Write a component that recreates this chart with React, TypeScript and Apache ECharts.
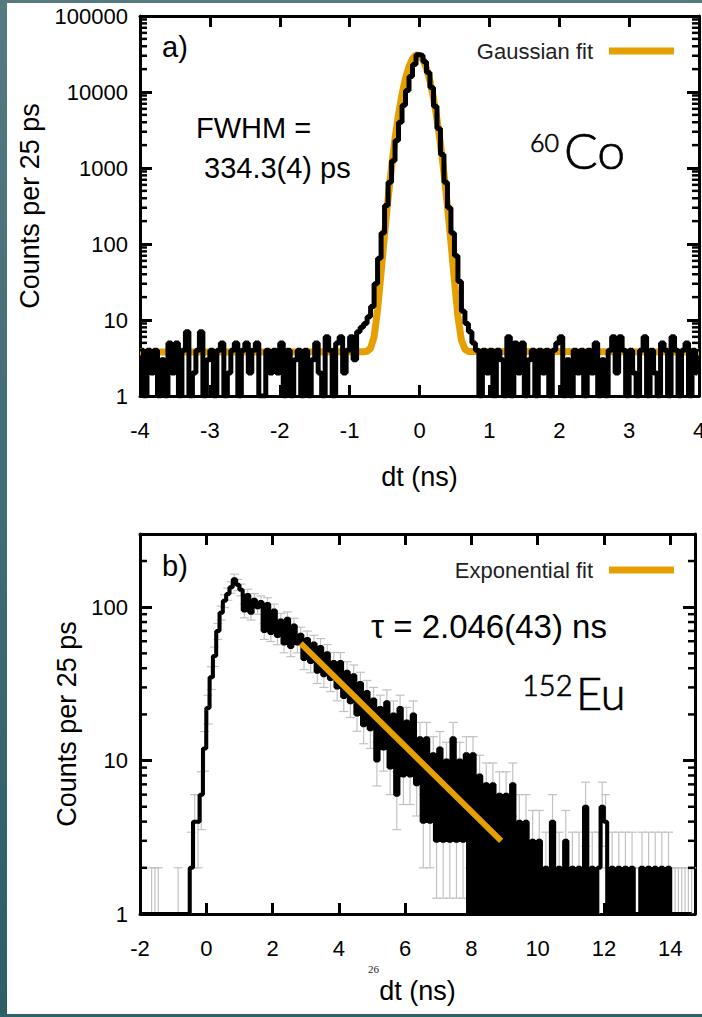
import React, { useEffect, useRef } from 'react';
import * as echarts from 'echarts';

// ---------------- Panel a) 60Co timing peak ----------------
// counts per bin; bins of 0.05 ns starting at -4 ns
const aBinStart = -4;
const aBinWidth = 0.05;
const aCountsLeft = [
  4, 1, 4, 2, 4, 1, 3, 1, 5, 2,
  5, 1, 4, 7, 1, 2, 4, 7, 1, 3,
  4, 1, 4, 5, 1, 2, 4, 5, 1, 4,
  5, 2, 4, 5, 1, 1, 4, 2, 4, 2,
  5, 1, 4, 1, 3, 4, 1, 4, 1, 3,
  5, 2, 1, 6, 4, 1, 5, 6, 2, 4,
];
const aCountsPeak = [
  6, 3, 7, 8, 9, 11, 15, 30, 65, 140,
  320, 650, 1250, 2300, 4000, 6700, 10500, 16000, 23000, 31000,
  30500, 25000, 18000, 11500, 6500, 3300, 1500, 650, 300, 140,
  70, 32, 13, 9, 7, 5,
];
const aCountsRight = [
  4, 1, 4, 2, 4, 1, 4, 3, 1, 6,
  1, 5, 2, 5, 1, 3, 4, 1, 4, 2,
  4, 1, 4, 5, 6, 1, 3, 1, 4, 2,
  4, 1, 4, 2, 5, 1, 3, 1, 4, 6,
  2, 6, 4, 1, 4, 2, 1, 4, 6, 1,
  4, 2, 1, 5, 4, 1, 6, 4, 1, 4,
  5, 1, 4, 2,
];
// Gaussian fit curve
const aFitX = [-4, -0.8, -0.75, -0.7, -0.65, -0.6, -0.55, -0.5, -0.45, -0.4, -0.35, -0.3, -0.25, -0.2, -0.15, -0.1, -0.05, 0, 0.05, 0.1, 0.15, 0.2, 0.25, 0.3, 0.35, 0.4, 0.45, 0.5, 0.55, 0.6, 0.65, 0.7, 4];
const aFitY = [3.8, 3.81, 3.88, 4.25, 6.0, 13.6, 41.6, 133, 392, 1035, 2443, 5080, 9330, 15130, 21700, 27440, 30700, 30300, 26440, 20380, 13880, 8340, 4430, 2080, 863, 316, 106, 33, 11.1, 5.4, 4.12, 3.86, 3.8];
const aXRange = [-4, 4];
const aXStep = 1;
const aYRange = [1, 100000];
const aYMinorTicks = [2, 3, 4, 5, 6, 7, 8, 9, 20, 30, 40, 50, 60, 70, 80, 90, 200, 300, 400, 500, 600, 700, 800, 900, 2000, 3000, 4000, 5000, 6000, 7000, 8000, 9000, 20000, 30000, 40000, 50000, 60000, 70000, 80000, 90000];

// ---------------- Panel b) 152Eu lifetime ----------------
// counts per bin; bins of 0.1 ns starting at -2 ns
const bBinStart = -2;
const bBinWidth = 0.1;
const bCounts = [
  0, 0, 0, 1, 1, 1, 0, 0, 0, 0,
  0, 1, 0, 0, 0, 2, 4, 4, 6, 12,
  22, 35, 48, 70, 92, 110, 122, 135, 152, 140,
  130, 95, 120, 92, 112, 100, 108, 70, 105, 68,
  95, 65, 82, 58, 84, 55, 76, 58, 66, 46,
  62, 44, 58, 38, 55, 36, 50, 34, 44, 30,
  44, 26, 38, 24, 36, 20, 32, 17, 28, 16,
  25, 10, 22, 12, 24, 9, 20, 6, 22, 8,
  18, 8, 20, 7, 14, 4, 14, 4, 11, 3,
  12, 3, 10, 3, 14, 3, 10, 3, 11, 1,
  11, 1, 8, 1, 7, 1, 7, 1, 6, 1,
  6, 1, 7, 1, 4, 1, 4, 1, 3, 1,
  3, 1, 2, 1, 4, 1, 2, 1, 3, 1,
  2, 1, 2, 1, 5, 1, 2, 1, 2, 5,
  4, 1, 2, 1, 2, 1, 2, 1, 2, 1,
  1, 2, 1, 2, 1, 2, 1, 2, 1, 2,
  1, 1, 1, 1, 1, 1, 1,
];
const bFitX = [2.85, 8.9];
const bFitY = [58, 3.0];
const bXRange = [-2, 14.75];
const bXStep = 2;
const bYRange = [1, 300];
const bYMinorTicks = [2, 3, 4, 5, 6, 7, 8, 9, 20, 30, 40, 50, 60, 70, 80, 90, 200];

const ORANGE = '#E69F00';
const FONT = '"Liberation Sans", Arial, Helvetica, sans-serif';
const ISO_FONT = 'Lato, "Noto Sans", sans-serif';

function minorTicks(xIdx: number, yIdx: number, values: number[], xr: number[]) {
  return {
    type: 'custom',
    xAxisIndex: xIdx,
    yAxisIndex: yIdx,
    silent: true,
    z: 6,
    data: values.map((v) => [xr[0], v]),
    renderItem: (params: any, api: any) => {
      const v = api.value(1);
      const pL = api.coord([xr[0], v]);
      const pR = api.coord([xr[1], v]);
      const st = { stroke: '#000', lineWidth: 2.5 };
      return {
        type: 'group',
        children: [
          { type: 'line', shape: { x1: pL[0], y1: pL[1], x2: pL[0] + 7, y2: pL[1] }, style: st },
          { type: 'line', shape: { x1: pR[0], y1: pR[1], x2: pR[0] - 7, y2: pR[1] }, style: st },
        ],
      };
    },
  };
}

function xAxes(grid: number, xr: number[], step: number, nameGap: number) {
  const common = {
    gridIndex: grid,
    type: 'value',
    min: xr[0],
    max: xr[1],
    interval: step,
    splitLine: { show: false },
    axisLine: { show: true, onZero: false, lineStyle: { color: '#000', width: 3 } },
    axisTick: { show: true, inside: true, length: 11, lineStyle: { color: '#000', width: 3 } },
  };
  return [
    {
      ...common,
      position: 'bottom',
      name: 'dt (ns)',
      nameLocation: 'middle',
      nameGap,
      nameTextStyle: { fontSize: 27, color: '#000', fontFamily: FONT },
      axisLabel: { show: true, fontSize: 22, color: '#000', fontFamily: FONT, margin: 23, showMaxLabel: xr[1] % step === 0 },
    },
    { ...common, position: 'top', axisLabel: { show: false } },
  ];
}

function yAxes(grid: number, yr: number[], nameGap: number) {
  const common = {
    gridIndex: grid,
    type: 'log',
    logBase: 10,
    min: yr[0],
    max: yr[1],
    splitLine: { show: false },
    minorTick: { show: false },
    axisLine: { show: true, onZero: false, lineStyle: { color: '#000', width: 3 } },
    axisTick: { show: true, inside: true, length: 12, lineStyle: { color: '#000', width: 3 } },
  };
  return [
    {
      ...common,
      position: 'left',
      name: 'Counts per 25 ps',
      nameLocation: 'middle',
      nameGap,
      nameTextStyle: { fontSize: 27, color: '#000', fontFamily: FONT },
      axisLabel: {
        show: true,
        fontSize: 22,
        color: '#000',
        fontFamily: FONT,
        margin: 12,
        formatter: (v: number) => {
          const r = Math.round(v);
          const l = Math.log10(r);
          return Math.abs(l - Math.round(l)) < 1e-6 ? String(r) : '';
        },
      },
    },
    { ...common, position: 'right', axisLabel: { show: false } },
  ];
}

export default function App() {
  const ref = useRef<HTMLDivElement>(null);
  useEffect(() => {
    if (!ref.current) return;
    const chart = echarts.init(ref.current, undefined, { renderer: 'svg' });

    const aCounts = [...aCountsLeft, ...aCountsPeak, ...aCountsRight];
    const aData = aCounts.map((v, i) => [aBinStart + (i + 0.5) * aBinWidth, Math.max(v, 1)]);
    const aFit = aFitX.map((x, i) => [x, aFitY[i]]);

    const bData = bCounts.map((v, i) => [bBinStart + (i + 0.5) * bBinWidth, Math.max(v, 1)]);
    const bErr = bCounts
      .map((v, i) => [bBinStart + (i + 0.5) * bBinWidth, v, Math.sqrt(v)])
      .filter((d) => d[1] > 0);
    const bFit = bFitX.map((x, i) => [x, bFitY[i]]);

    const legendCommon = {
      right: 23,
      align: 'right',
      itemWidth: 65,
      itemHeight: 7,
      selectedMode: false,
      textStyle: { fontSize: 22, color: '#222', fontFamily: FONT, padding: [0, 11, 0, 0] },
    };

    const iso = { fontFamily: ISO_FONT, fontWeight: 300, fill: '#000', stroke: '#000', lineWidth: 0.7, verticalAlign: 'middle' };

    const option: any = {
      animation: false,
      backgroundColor: '#ffffff',
      grid: [
        { left: 140, top: 16, right: 3, height: 380, outerBoundsMode: 'none', containLabel: false },
        { left: 140, top: 534, right: 7, height: 380, outerBoundsMode: 'none', containLabel: false },
      ],
      xAxis: [...xAxes(0, aXRange, aXStep, 67), ...xAxes(1, bXRange, bXStep, 63)],
      yAxis: [...yAxes(0, aYRange, 88), ...yAxes(1, bYRange, 52)],
      legend: [
        { ...legendCommon, data: [{ name: 'Gaussian fit', icon: 'rect' }], top: 35 },
        { ...legendCommon, data: [{ name: 'Exponential fit', icon: 'rect' }], top: 554 },
      ],
      series: [
        {
          name: 'Gaussian fit',
          type: 'line',
          xAxisIndex: 0,
          yAxisIndex: 0,
          data: aFit,
          symbol: 'none',
          color: ORANGE,
          lineStyle: { color: ORANGE, width: 7 },
          z: 2,
        },
        {
          name: '60Co data',
          type: 'line',
          xAxisIndex: 0,
          yAxisIndex: 0,
          data: aData,
          step: 'middle',
          symbol: 'none',
          color: '#000',
          lineStyle: { color: '#000', width: 5 },
          z: 3,
        },
        minorTicks(0, 0, aYMinorTicks, aXRange),
        {
          name: 'errors',
          type: 'custom',
          xAxisIndex: 2,
          yAxisIndex: 2,
          silent: true,
          z: 1,
          data: bErr,
          renderItem: (params: any, api: any) => {
            const x = api.value(0);
            const v = api.value(1);
            const e = api.value(2);
            const cs = params.coordSys;
            const bottom = cs.y + cs.height;
            const top = cs.y;
            const hi = api.coord([x, v + e]);
            const px = hi[0];
            const lo = v - e >= 1 ? api.coord([x, v - e])[1] : bottom + 20;
            const yTop = Math.max(hi[1], top);
            const yBot = Math.min(lo, bottom);
            const st = { stroke: '#c2c2c2', lineWidth: 1.2 };
            const children: any[] = [
              { type: 'line', shape: { x1: px, y1: yTop, x2: px, y2: yBot }, style: st },
            ];
            if (hi[1] >= top) children.push({ type: 'line', shape: { x1: px - 4.5, y1: hi[1], x2: px + 4.5, y2: hi[1] }, style: st });
            if (lo <= bottom) children.push({ type: 'line', shape: { x1: px - 4.5, y1: lo, x2: px + 4.5, y2: lo }, style: st });
            return { type: 'group', children };
          },
        },
        {
          name: '152Eu data',
          type: 'line',
          xAxisIndex: 2,
          yAxisIndex: 2,
          data: bData,
          step: 'middle',
          symbol: 'none',
          color: '#000',
          lineStyle: { color: '#000', width: 4 },
          z: 3,
        },
        {
          name: 'Exponential fit',
          type: 'line',
          xAxisIndex: 2,
          yAxisIndex: 2,
          data: bFit,
          symbol: 'none',
          color: ORANGE,
          lineStyle: { color: ORANGE, width: 6 },
          z: 4,
        },
        minorTicks(2, 2, bYMinorTicks, bXRange),
      ],
      graphic: [
        { type: 'text', x: 162, y: 47, z: 10, style: { text: 'a)', fontSize: 29, fontFamily: FONT, fill: '#000', verticalAlign: 'middle' } },
        { type: 'text', x: 196, y: 128, z: 10, style: { text: 'FWHM =', fontSize: 29, fontFamily: FONT, fill: '#000', verticalAlign: 'middle' } },
        { type: 'text', x: 204, y: 168, z: 10, style: { text: '334.3(4) ps', fontSize: 29, fontFamily: FONT, fill: '#000', verticalAlign: 'middle' } },
        { type: 'text', x: 530, y: 142, z: 10, style: { ...iso, text: '60', fontSize: 25 } },
        { type: 'text', x: 564, y: 150, z: 10, style: { ...iso, text: 'Co', fontSize: 50 } },
        { type: 'text', x: 162, y: 566, z: 10, style: { text: 'b)', fontSize: 29, fontFamily: FONT, fill: '#000', verticalAlign: 'middle' } },
        { type: 'text', x: 371, y: 626, z: 10, style: { text: 'τ = 2.046(43) ns', fontSize: 33, fontFamily: FONT, fill: '#000', verticalAlign: 'middle' } },
        { type: 'text', x: 522, y: 684, z: 10, style: { ...iso, text: '152', fontSize: 29 } },
        { type: 'text', x: 576, y: 693, z: 10, style: { ...iso, text: 'Eu', fontSize: 45 } },
        { type: 'text', x: 368, y: 969, z: 10, style: { text: '26', fontSize: 11, fontFamily: '"Liberation Serif", "DejaVu Serif", serif', fill: '#222', verticalAlign: 'middle' } },
        {
          type: 'rect', z: 20, shape: { x: 0, y: 0, width: 7, height: 1017 },
          style: { fill: new echarts.graphic.LinearGradient(0, 0, 0, 1, [{ offset: 0, color: '#557a80' }, { offset: 1, color: '#2b5e65' }]) },
        },
        { type: 'rect', z: 20, shape: { x: 0, y: 0, width: 702, height: 3 }, style: { fill: '#557a80' } },
        { type: 'rect', z: 20, shape: { x: 0, y: 1014, width: 702, height: 3 }, style: { fill: '#2f6168' } },
      ],
    };
    chart.setOption(option);
    return () => chart.dispose();
  }, []);
  return <div ref={ref} style={{ position: 'absolute', left: 0, top: 0, width: 702, height: 1017, background: '#fff' }} />;
}
